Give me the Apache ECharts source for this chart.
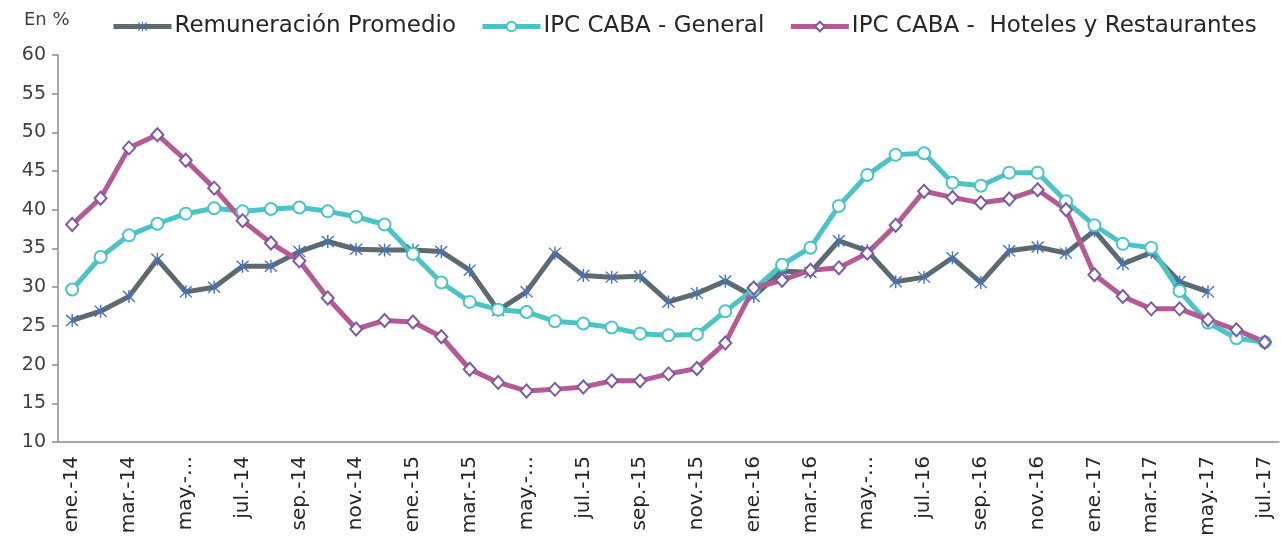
<!DOCTYPE html>
<html>
<head>
<meta charset="utf-8">
<script src="https://cdn.jsdelivr.net/npm/echarts@6/dist/echarts.min.js"></script>
<style>
  html, body { margin: 0; padding: 0; background: #fff; }
  #chart { width: 1281px; height: 542px; }
</style>
</head>
<body>
<div id="chart"></div>
<script>
// meses (eje x)
const months = [
  'ene.-14','feb.-14','mar.-14','abr.-14','may.-14','jun.-14','jul.-14','ago.-14','sep.-14','oct.-14','nov.-14','dic.-14',
  'ene.-15','feb.-15','mar.-15','abr.-15','may.-15','jun.-15','jul.-15','ago.-15','sep.-15','oct.-15','nov.-15','dic.-15',
  'ene.-16','feb.-16','mar.-16','abr.-16','may.-16','jun.-16','jul.-16','ago.-16','sep.-16','oct.-16','nov.-16','dic.-16',
  'ene.-17','feb.-17','mar.-17','abr.-17','may.-17','jun.-17','jul.-17'
];
// etiquetas que en el original aparecen recortadas
const cutLabels = ['may.-14', 'may.-15', 'may.-16'];

const remuneracion = [25.7, 26.9, 28.8, 33.6, 29.4, 30.0, 32.7, 32.7, 34.6, 35.9, 34.9, 34.8,
  34.8, 34.6, 32.2, 27.0, 29.4, 34.4, 31.5, 31.3, 31.4, 28.1, 29.2, 30.8,
  28.8, 32.1, 31.9, 36.0, 34.7, 30.7, 31.3, 33.8, 30.6, 34.7, 35.2, 34.4,
  37.3, 33.0, 34.5, 30.7, 29.4, null, null];

const ipcGeneral = [29.7, 33.9, 36.7, 38.2, 39.5, 40.2, 39.8, 40.1, 40.3, 39.8, 39.1, 38.1,
  34.3, 30.6, 28.1, 27.1, 26.8, 25.6, 25.3, 24.8, 24.0, 23.8, 23.9, 26.9,
  29.7, 32.9, 35.1, 40.5, 44.5, 47.1, 47.3, 43.5, 43.1, 44.8, 44.8, 41.1,
  38.0, 35.6, 35.1, 29.5, 25.4, 23.4, 22.9];

const ipcHoteles = [38.1, 41.5, 48.0, 49.7, 46.4, 42.8, 38.6, 35.7, 33.4, 28.6, 24.6, 25.7,
  25.5, 23.6, 19.4, 17.7, 16.6, 16.8, 17.1, 17.9, 17.9, 18.8, 19.5, 22.8,
  29.9, 30.9, 32.2, 32.5, 34.4, 38.0, 42.4, 41.6, 40.9, 41.4, 42.6, 40.0,
  31.6, 28.8, 27.2, 27.2, 25.8, 24.5, 22.9];

const FONT = 'DejaVu Sans';
// marcador asterisco (X + barra vertical)
const ASTERISK = 'path://M9,0H11V20H9Z M2.2,0.8L19.2,17.8L17.8,19.2L0.8,2.2Z M17.8,0.8L19.2,2.2L2.2,19.2L0.8,17.8Z';

const chart = echarts.init(document.getElementById('chart'), null, { renderer: 'canvas' });

const option = {
  animation: false,
  backgroundColor: '#fff',
  textStyle: { fontFamily: FONT },
  title: {
    text: 'En %',
    left: 19,
    top: 6,
    textStyle: { fontFamily: FONT, fontSize: 18, fontWeight: 'normal', color: '#404040' }
  },
  legend: {
    left: 106,
    top: 10,
    itemWidth: 58,
    itemHeight: 12,
    itemGap: 24,
    lineStyle: { width: 5 },
    textStyle: { fontFamily: FONT, fontSize: 23, color: '#262626', padding: [0, 0, 0, -2] },
    data: ['Remuneración Promedio', 'IPC CABA - General', 'IPC CABA -  Hoteles y Restaurantes']
  },
  grid: {
    left: 58,
    right: 2,
    top: 55,
    bottom: 100,
    containLabel: false
  },
  xAxis: {
    type: 'category',
    data: months,
    boundaryGap: true,
    axisLine: { lineStyle: { color: '#8c8c8c', width: 1.5 } },
    axisTick: { interval: 1, length: 8, lineStyle: { color: '#8c8c8c', width: 1.5 } },
    axisLabel: {
      interval: 1,
      rotate: 90,
      margin: 14,
      fontFamily: FONT,
      fontSize: 20,
      color: '#262626',
      formatter: function (v) {
        return cutLabels.indexOf(v) >= 0 ? 'may.-…' : v;
      }
    }
  },
  yAxis: {
    type: 'value',
    min: 10,
    max: 60,
    interval: 5,
    splitLine: { show: false },
    axisLine: { show: true, lineStyle: { color: '#8c8c8c', width: 1.5 } },
    axisTick: { show: true, length: 6, lineStyle: { color: '#8c8c8c', width: 1.5 } },
    axisLabel: { fontFamily: FONT, fontSize: 19, color: '#404040', margin: 12 }
  },
  series: [
    {
      name: 'Remuneración Promedio',
      type: 'line',
      data: remuneracion,
      symbol: ASTERISK,
      symbolSize: 13,
      lineStyle: { color: '#5d6a6e', width: 5 },
      itemStyle: { color: '#4472c4', borderWidth: 0 }
    },
    {
      name: 'IPC CABA - General',
      type: 'line',
      data: ipcGeneral,
      symbol: 'circle',
      symbolSize: 12,
      showAllSymbol: true,
      lineStyle: { color: '#4bc4c6', width: 5 },
      itemStyle: { color: '#ffffff', borderColor: '#4bc4c6', borderWidth: 2 }
    },
    {
      name: 'IPC CABA -  Hoteles y Restaurantes',
      type: 'line',
      data: ipcHoteles,
      symbol: 'diamond',
      symbolSize: [12, 13],
      lineStyle: { color: '#b55a92', width: 5 },
      itemStyle: { color: '#ffffff', borderColor: '#7b5aa6', borderWidth: 2 }
    }
  ]
};

chart.setOption(option);
</script>
</body>
</html>
